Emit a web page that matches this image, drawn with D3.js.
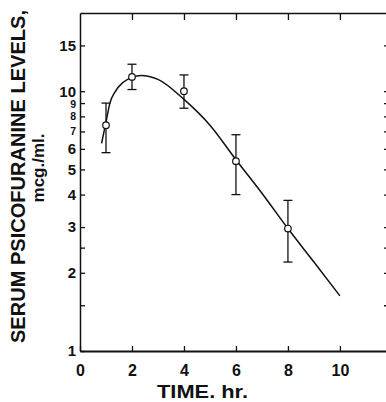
<!DOCTYPE html>
<html>
<head>
<meta charset="utf-8">
<script src="https://cdn.jsdelivr.net/npm/d3@7"></script>
<style>
  body { margin: 0; background: #fff; }
  text { font-family: "Liberation Sans", Arial, sans-serif; font-weight: bold; fill: #111; }
</style>
</head>
<body>
<svg id="chart" width="386" height="402"></svg>
<script>
// measured points (mean and error bar ends), mcg./ml.
const hours = [1, 2, 4, 6, 8];
const meanLevel = [7.4, 11.35, 10.0, 5.38, 2.96];
const upperLevel = [9.0, 12.7, 11.55, 6.8, 3.8];
const lowerLevel = [5.8, 10.15, 8.6, 4.0, 2.2];

// fitted curve
const curveHours = [0.83, 1.0, 1.15, 1.35, 1.65, 2.0, 2.35, 3.0, 4.0, 5.0, 6.0, 7.0, 8.0, 9.0, 10.0];
const curveLevel = [6.3, 7.6, 9.0, 9.95, 10.8, 11.3, 11.5, 11.1, 9.3, 7.4, 5.45, 4.05, 2.96, 2.2, 1.63];

const xTicks = [0, 2, 4, 6, 8, 10];
const yTicks = [1, 1.5, 2, 2.5, 3, 4, 5, 6, 7, 8, 9, 10, 15];
const yLabels = [1, 2, 3, 4, 5, 6, 7, 8, 9, 10, 15];
const smallLabels = [7, 8, 9]; // crowded ones, printed smaller

const margin = {top: 13, right: 388, bottom: 351, left: 80};

const svg = d3.select('#chart');

const x = d3.scaleLinear().domain([0, 11.85]).range([margin.left, margin.right]);
const y = d3.scaleLog().domain([1, 20]).range([margin.bottom, margin.top]);

// Axes (ticks point inward)
const xAxis = d3.axisBottom(x).tickValues(xTicks).tickSize(-5).tickSizeOuter(0).tickPadding(14)
  .tickFormat(d3.format('d'));
const xTop = d3.axisTop(x).tickValues(xTicks.filter(d => d > 0)).tickSize(-7).tickSizeOuter(0).tickFormat('');
const yAxis = d3.axisLeft(y).tickValues(yTicks).tickSize(-5).tickSizeOuter(0).tickPadding(4)
  .tickFormat(d => yLabels.includes(d) ? d : '');
const yRight = d3.axisRight(y).tickValues(yTicks.filter(d => d > 1)).tickSize(-4).tickSizeOuter(0).tickFormat('');

const gx = svg.append('g').attr('transform', `translate(0,${margin.bottom})`).call(xAxis);
gx.selectAll('text').style('font-size', '16px');
gx.select('.domain').attr('stroke-width', 2);

svg.append('g').attr('transform', `translate(0,${margin.top})`).call(xTop)
  .select('.domain').attr('stroke-width', 1.5);

const gy = svg.append('g').attr('transform', `translate(${margin.left},0)`).call(yAxis);
gy.selectAll('text')
  .style('font-size', d => smallLabels.includes(d) ? '10.5px' : '15px')
  .attr('dy', d => d === 9 ? '0.45em' : '0.32em');
gy.select('.domain').attr('stroke-width', 1.5);

svg.append('g').attr('transform', `translate(${margin.right},0)`).call(yRight);

svg.selectAll('.tick line').attr('stroke', '#111').attr('stroke-width', 1.3);
svg.selectAll('.domain').attr('stroke', '#111');
svg.selectAll('.tick text').style('fill', '#111').style('font-family', '"Liberation Sans", Arial, sans-serif');

// curve
const line = d3.line()
  .x((d, i) => x(curveHours[i]))
  .y(d => y(d))
  .curve(d3.curveMonotoneX);

svg.append('path')
  .datum(curveLevel)
  .attr('fill', 'none')
  .attr('stroke', '#111')
  .attr('stroke-width', 1.5)
  .attr('d', line);

// error bars
const bars = svg.append('g').attr('stroke', '#111').attr('stroke-width', 1.3);
hours.forEach((h, i) => {
  bars.append('line')
    .attr('x1', x(h)).attr('x2', x(h))
    .attr('y1', y(lowerLevel[i])).attr('y2', y(upperLevel[i]));
  [lowerLevel[i], upperLevel[i]].forEach(v => {
    bars.append('line')
      .attr('x1', x(h) - 4.5).attr('x2', x(h) + 4.5)
      .attr('y1', y(v)).attr('y2', y(v));
  });
});

svg.selectAll('circle.pt')
  .data(meanLevel)
  .enter()
  .append('circle')
  .attr('class', 'pt')
  .attr('cx', (d, i) => x(hours[i]))
  .attr('cy', d => y(d))
  .attr('r', 3.3)
  .attr('fill', '#fff')
  .attr('stroke', '#111')
  .attr('stroke-width', 1.2);

// titles
svg.append('text')
  .attr('transform', 'translate(25,176.5) rotate(-90)')
  .attr('text-anchor', 'middle')
  .style('font-size', '20px')
  .attr('textLength', 333)
  .attr('lengthAdjust', 'spacingAndGlyphs')
  .text('SERUM PSICOFURANINE LEVELS,');

svg.append('text')
  .attr('transform', 'translate(44,168) rotate(-90)')
  .attr('text-anchor', 'middle')
  .style('font-size', '17px')
  .text('mcg./ml.');

svg.append('text')
  .attr('x', 202.5)
  .attr('y', 398)
  .attr('text-anchor', 'middle')
  .style('font-size', '19px')
  .attr('textLength', 91)
  .attr('lengthAdjust', 'spacingAndGlyphs')
  .text('TIME. hr.');
</script>
</body>
</html>
